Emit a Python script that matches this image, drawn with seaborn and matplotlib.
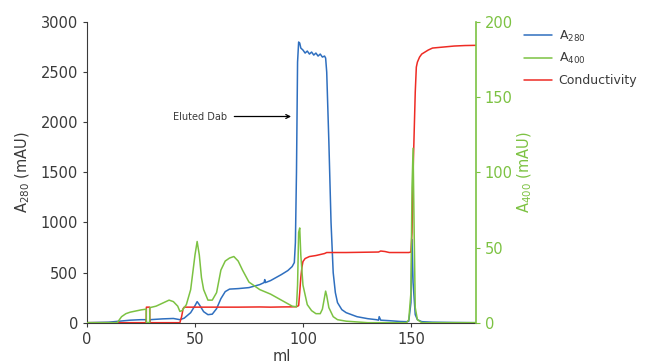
import matplotlib
matplotlib.use("Agg")
import matplotlib.pyplot as plt
import seaborn as sns

# A280 trace (mAU, left axis)
a280_ml = [0, 10, 15, 20, 25, 27.4, 27.5, 29, 29.1, 35, 40, 43, 45, 48, 50, 51, 52, 54, 56, 58,
           60, 62, 64, 66, 70, 75, 80, 82, 82.3, 82.6, 85, 90, 93, 95, 96, 96.5, 97, 97.5, 98, 98.5,
           99, 100, 101, 102, 103, 104, 105, 106, 107, 108, 109, 110, 110.5, 111, 112, 113, 114,
           115, 116, 118, 120, 125, 130, 134, 135, 135.3, 136, 140, 145, 148, 149, 150, 150.5,
           151, 152, 153, 155, 160, 170, 180]
a280 = [0, 5, 15, 25, 30, 30, 0, 0, 30, 38, 42, 30, 45, 100, 170, 210, 180, 110, 80, 85,
        140, 240, 310, 335, 340, 350, 380, 400, 430, 400, 420, 480, 520, 560, 600, 800, 1500, 2600, 2800, 2790,
        2740, 2720, 2690, 2710, 2680, 2700, 2670, 2690, 2660, 2680, 2650, 2660, 2640, 2500, 1800, 1000, 500,
        300, 200, 130, 100, 60, 40, 30, 25, 60, 25, 20, 12, 10, 15, 200, 830,
        400, 80, 30, 10, 5, 2, 0]

# A400 trace (mAU, right axis)
a400_ml = [0, 14, 16, 18, 20, 25, 27.4, 27.5, 29, 29.1, 32, 35, 38, 40, 42, 43, 44, 46, 48, 50,
           51, 52, 53, 54, 56, 58, 60, 62, 64, 66, 68, 70, 72, 75, 80, 85, 90, 95, 97, 97.5,
           98, 98.5, 99, 100, 102, 104, 106, 108, 109, 110, 110.5, 111, 112, 114, 116, 120, 125,
           130, 140, 145, 148, 149, 150, 150.5, 151, 151.5, 152, 153, 155, 160, 180]
a400 = [0, 0, 4, 6, 7, 8.5, 9, 0, 0, 10, 11, 13, 15, 14, 11, 7.5, 8, 12, 22, 45,
        54, 45, 30, 22, 15, 15, 20, 35, 41, 43, 44, 41, 35, 27, 22, 19, 15, 11, 10.5, 25,
        60, 63, 45, 25, 12, 8, 6, 6, 9, 17, 21, 18, 10, 4, 2, 1, 0.5,
        0, 0, 0, 0, 2, 20, 90, 116, 60, 10, 2, 0, 0, 0]

# Conductivity trace (drawn in left-axis units)
cond_ml = [0, 27.4, 27.5, 29, 29.1, 43, 43.8, 44.5, 45, 50, 60, 70, 80, 85, 90, 95, 97, 98, 98.5,
           99, 99.5, 100, 101, 103, 106, 110, 111, 120, 135, 136, 138, 140, 149, 150, 150.5, 151,
           152, 152.5, 153, 154, 155, 158, 160, 165, 170, 175, 180]
cond = [0, 0, 155, 155, 0, 0, 60, 140, 155, 155, 155, 155, 157, 155, 157, 158, 160, 170, 300,
        450, 550, 610, 640, 660, 670, 690, 700, 700, 705, 715, 710, 700, 700, 705, 900, 1500,
        2300, 2550, 2600, 2650, 2680, 2720, 2740, 2750, 2760, 2765, 2767]

blue = "#2f6fbf"
green = "#7cc242"
red = "#ee2b24"
dark = "#3a3a3a"

sns.set_style("white")
plt.rcParams["font.family"] = ["DejaVu Sans"]

fig = plt.figure(figsize=(6.46, 3.64), dpi=100)
ax = fig.add_axes([0.1347, 0.1135, 0.6017, 0.8261])
ax2 = ax.twinx()

sns.lineplot(x=a280_ml, y=a280, ax=ax, color=blue, lw=1.1, estimator=None, sort=False, label="A$_{280}$", legend=False)
sns.lineplot(x=cond_ml, y=cond, ax=ax, color=red, lw=1.1, estimator=None, sort=False, label="Conductivity", legend=False)
sns.lineplot(x=a400_ml, y=a400, ax=ax2, color=green, lw=1.1, estimator=None, sort=False, label="A$_{400}$", legend=False)

ax.set_xlim(0, 180)
ax.set_ylim(0, 3000)
ax2.set_ylim(0, 200)
ax.set_xticks([0, 50, 100, 150])
ax.set_yticks(range(0, 3001, 500))
ax2.set_yticks(range(0, 201, 50))

ax.set_xlabel("ml", fontsize=10.5, color=dark, labelpad=2)
ax.set_ylabel("A$_{280}$ (mAU)", fontsize=10.5, color=dark, labelpad=6)
ax2.set_ylabel("A$_{400}$ (mAU)", fontsize=10.5, color=green, labelpad=2)

for a in (ax, ax2):
    a.spines["top"].set_visible(False)
ax.spines["right"].set_visible(False)
ax2.spines["left"].set_visible(False)
ax2.spines["bottom"].set_visible(False)
ax.spines["left"].set_color(dark)
ax.spines["bottom"].set_color(dark)
ax2.spines["right"].set_color(green)
ax2.spines["right"].set_linewidth(1.2)
ax.tick_params(axis="both", colors=dark, labelsize=10.5, length=3, width=0.8, direction="out", left=True, bottom=True)
ax2.tick_params(axis="y", colors=green, labelcolor=green, labelsize=10.5, length=3, width=0.8, direction="out", right=True)

ax.annotate("Eluted Dab", xy=(94.5, 2057), xytext=(39.7, 2057), fontsize=7, color=dark,
            ha="left", va="center",
            arrowprops=dict(arrowstyle="->", color="black", lw=0.9, shrinkA=3, shrinkB=0))

h1, l1 = ax.get_legend_handles_labels()
h2, l2 = ax2.get_legend_handles_labels()
handles = [h1[0], h2[0], h1[1]]
labels = [l1[0], l2[0], l1[1]]
fig.legend(handles, labels, loc="upper left", bbox_to_anchor=(0.797, 0.945), frameon=False,
           fontsize=9, handlelength=2.3, labelspacing=0.6, handletextpad=0.5, labelcolor=dark,
           borderpad=0.2)

fig.savefig("out.png", dpi=100)
